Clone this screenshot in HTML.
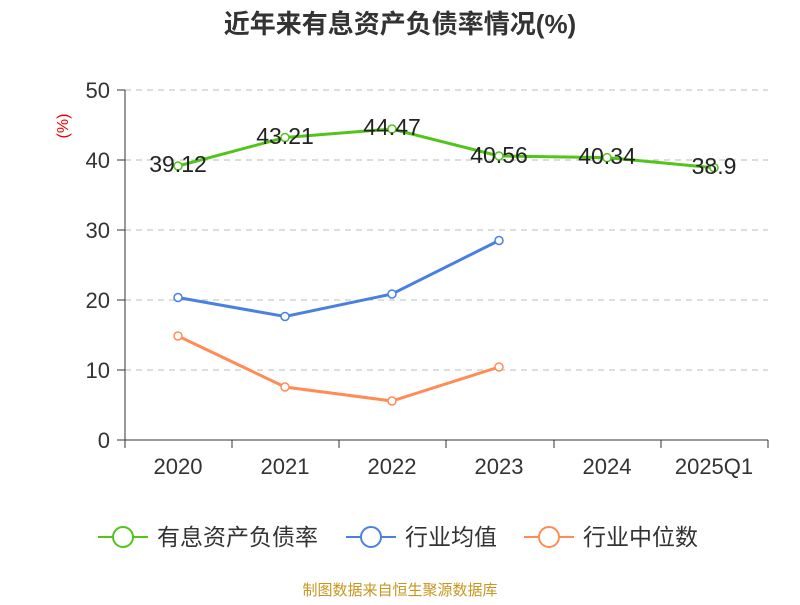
<!DOCTYPE html>
<html><head><meta charset="utf-8"><style>body{margin:0;background:#fff}</style></head><body>
<svg width="800" height="600" xmlns="http://www.w3.org/2000/svg" font-family="Liberation Sans, Noto Sans CJK SC, sans-serif">
<rect width="800" height="600" fill="#fff"/>
<text x="400" y="33" text-anchor="middle" font-size="26" font-weight="bold" fill="#333">近年来有息资产负债率情况(%)</text>
<text x="68" y="126" font-size="16" fill="#e00" transform="rotate(-90 68 126)" text-anchor="middle">(%)</text>
<g stroke="#bbb" stroke-dasharray="6,5" stroke-width="1">
<line x1="125" y1="90" x2="768" y2="90"/><line x1="125" y1="160" x2="768" y2="160"/><line x1="125" y1="230" x2="768" y2="230"/><line x1="125" y1="300" x2="768" y2="300"/><line x1="125" y1="370" x2="768" y2="370"/>
</g>
<g stroke="#333" stroke-width="1">
<line x1="125" y1="90" x2="125" y2="440"/><line x1="125" y1="440" x2="768" y2="440"/>
<line x1="117" y1="90" x2="125" y2="90"/><line x1="117" y1="160" x2="125" y2="160"/><line x1="117" y1="230" x2="125" y2="230"/><line x1="117" y1="300" x2="125" y2="300"/><line x1="117" y1="370" x2="125" y2="370"/><line x1="117" y1="440" x2="125" y2="440"/>
<line x1="125" y1="440" x2="125" y2="448"/><line x1="232" y1="440" x2="232" y2="448"/><line x1="339" y1="440" x2="339" y2="448"/><line x1="446" y1="440" x2="446" y2="448"/><line x1="554" y1="440" x2="554" y2="448"/><line x1="661" y1="440" x2="661" y2="448"/><line x1="768" y1="440" x2="768" y2="448"/>
</g>
<g font-size="22" fill="#333" text-anchor="end">
<text x="110" y="98">50</text><text x="110" y="168">40</text><text x="110" y="238">30</text><text x="110" y="308">20</text><text x="110" y="378">10</text><text x="110" y="448">0</text>
</g>
<g font-size="22" fill="#333" text-anchor="middle">
<text x="178" y="474">2020</text><text x="285" y="474">2021</text><text x="392" y="474">2022</text><text x="499" y="474">2023</text><text x="607" y="474">2024</text><text x="714" y="474">2025Q1</text>
</g>
<polyline fill="none" stroke="#52c41a" stroke-width="3" points="178,166 285,137.5 392,129 499,156 607,157.6 714,167.7"/>
<polyline fill="none" stroke="#4a80e0" stroke-width="3" points="178,297.5 285,316.5 392,294 499,240.5"/>
<polyline fill="none" stroke="#ff8c55" stroke-width="3" points="178,336 285,387 392,401 499,367"/>
<g fill="#fff" stroke-width="1.5">
<g stroke="#52c41a"><circle cx="178" cy="166" r="4"/><circle cx="285" cy="137.5" r="4"/><circle cx="392" cy="129" r="4"/><circle cx="499" cy="156" r="4"/><circle cx="607" cy="157.6" r="4"/><circle cx="714" cy="167.7" r="4"/></g>
<g stroke="#4a80e0"><circle cx="178" cy="297.5" r="4"/><circle cx="285" cy="316.5" r="4"/><circle cx="392" cy="294" r="4"/><circle cx="499" cy="240.5" r="4"/></g>
<g stroke="#ff8c55"><circle cx="178" cy="336" r="4"/><circle cx="285" cy="387" r="4"/><circle cx="392" cy="401" r="4"/><circle cx="499" cy="367" r="4"/></g>
</g>
<g font-size="23" fill="#222" text-anchor="middle">
<text x="178" y="172">39.12</text><text x="285" y="144">43.21</text><text x="392" y="135">44.47</text><text x="499" y="163">40.56</text><text x="607" y="164">40.34</text><text x="714" y="174">38.9</text>
</g>
<g stroke-width="2" fill="#fff">
<line x1="98" y1="537" x2="148" y2="537" stroke="#52c41a"/><circle cx="123" cy="537" r="10" stroke="#52c41a"/>
<line x1="346" y1="537" x2="396" y2="537" stroke="#4a80e0"/><circle cx="371" cy="537" r="10" stroke="#4a80e0"/>
<line x1="524" y1="537" x2="574" y2="537" stroke="#ff8c55"/><circle cx="549" cy="537" r="10" stroke="#ff8c55"/>
</g>
<g font-size="23" fill="#333">
<text x="157" y="545">有息资产负债率</text><text x="405" y="545">行业均值</text><text x="583" y="545">行业中位数</text>
</g>
<text x="400" y="595" text-anchor="middle" font-size="15" fill="#c8961e">制图数据来自恒生聚源数据库</text>
</svg>
</body></html>
